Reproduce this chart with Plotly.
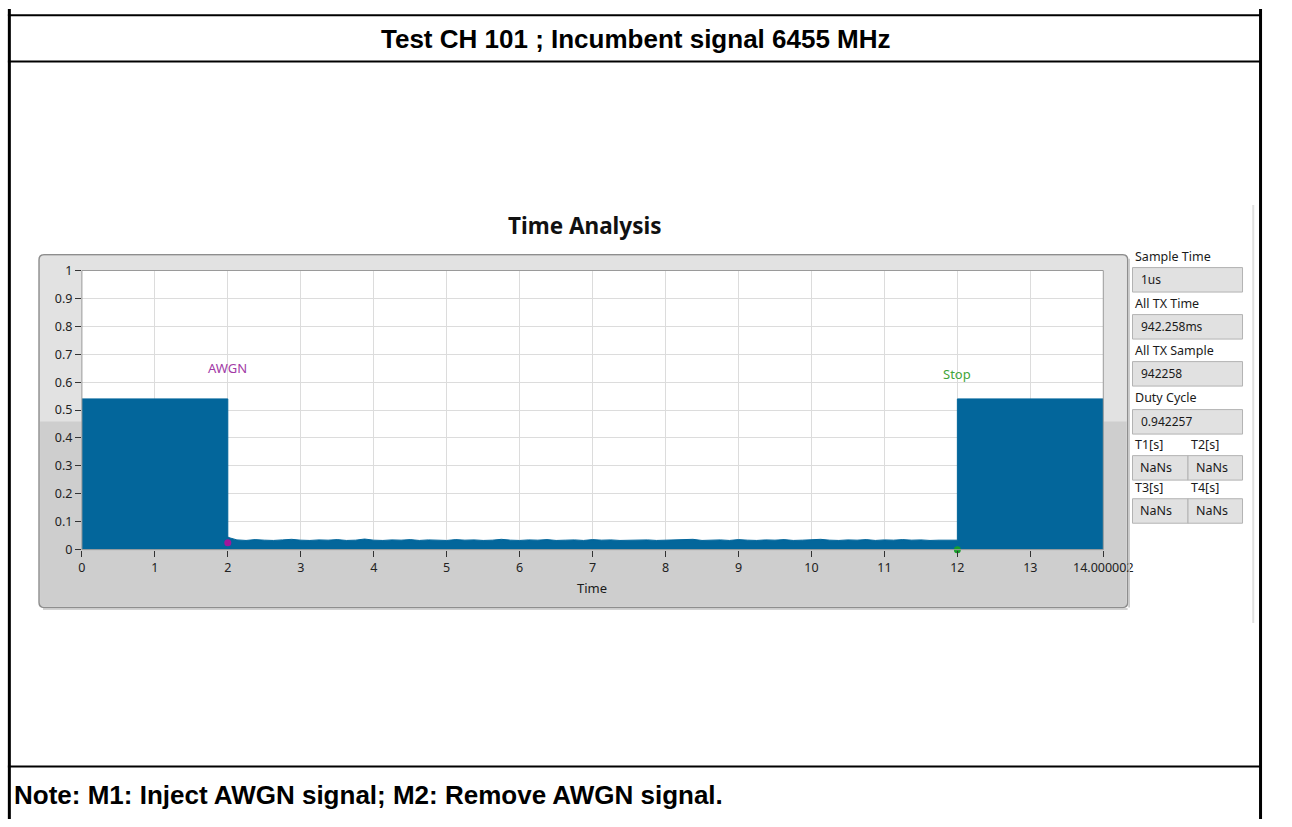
import plotly.graph_objects as go

# ---- data -------------------------------------------------------------
header_text = "Test CH 101 ; Incumbent signal 6455 MHz"
note_text = "Note: M1: Inject AWGN signal; M2: Remove AWGN signal."
chart_title = "Time Analysis"
x_title = "Time"

# transmission bursts (start, end) and their amplitude
burst_start = [0.0, 12.0]
burst_end = [2.0, 14.000002]
burst_level = 0.54

# noise floor between the bursts (AWGN injected)
noise_t = [2.00, 2.03, 2.125, 2.25, 2.375, 2.50, 2.625, 2.75, 2.875, 3.00,
           3.125, 3.25, 3.375, 3.50, 3.625, 3.75, 3.875, 4.00, 4.125, 4.25,
           4.375, 4.50, 4.625, 4.75, 4.875, 5.00, 5.125, 5.25, 5.375, 5.50,
           5.625, 5.75, 5.875, 6.00, 6.125, 6.25, 6.375, 6.50, 6.625, 6.75,
           6.875, 7.00, 7.125, 7.25, 7.375, 7.50, 7.625, 7.75, 7.875, 8.00,
           8.125, 8.25, 8.375, 8.50, 8.625, 8.75, 8.875, 9.00, 9.125, 9.25,
           9.375, 9.50, 9.625, 9.75, 9.875, 10.00, 10.125, 10.25, 10.375, 10.50,
           10.625, 10.75, 10.875, 11.00, 11.125, 11.25, 11.375, 11.50, 11.625, 11.75,
           11.875, 12.00]
noise_y = [0.045, 0.042, 0.035, 0.033, 0.036, 0.034, 0.033, 0.035, 0.037, 0.034,
           0.033, 0.035, 0.034, 0.036, 0.033, 0.034, 0.038, 0.034, 0.033, 0.035,
           0.034, 0.036, 0.033, 0.035, 0.034, 0.033, 0.036, 0.034, 0.035, 0.033,
           0.034, 0.037, 0.034, 0.033, 0.035, 0.034, 0.036, 0.033, 0.034, 0.035,
           0.033, 0.036, 0.034, 0.035, 0.033, 0.034, 0.036, 0.035, 0.033, 0.034,
           0.035, 0.034, 0.037, 0.033, 0.034, 0.035, 0.033, 0.036, 0.034, 0.033,
           0.035, 0.034, 0.036, 0.033, 0.034, 0.035, 0.037, 0.034, 0.033, 0.035,
           0.034, 0.036, 0.033, 0.035, 0.034, 0.036, 0.034, 0.035, 0.033, 0.034,
           0.035, 0.034]

# cursors
marker_x = [2.0, 12.0]
marker_y = [0.025, 0.0]
marker_name = ["AWGN", "Stop"]
marker_label_y = [0.65, 0.63]

x_ticks = [0, 1, 2, 3, 4, 5, 6, 7, 8, 9, 10, 11, 12, 13, 14.000002]
x_tick_text = ["0", "1", "2", "3", "4", "5", "6", "7", "8", "9", "10", "11",
               "12", "13", "14.000002"]
y_ticks = [0, 0.1, 0.2, 0.3, 0.4, 0.5, 0.6, 0.7, 0.8, 0.9, 1]
y_tick_text = ["0", "0.1", "0.2", "0.3", "0.4", "0.5", "0.6", "0.7", "0.8", "0.9", "1"]

# indicator panel
panel_labels = ["Sample Time", "All TX Time", "All TX Sample", "Duty Cycle"]
panel_values = ["1us", "942.258ms", "942258", "0.942257"]
pair_labels = [("T1[s]", "T2[s]"), ("T3[s]", "T4[s]")]
pair_values = [("NaNs", "NaNs"), ("NaNs", "NaNs")]

# ---- layout helpers -----------------------------------------------------
W, H = 1292, 827


def fx(px):
    return px / W


def fy(py):
    return 1 - py / H


PLOT_L, PLOT_R, PLOT_T, PLOT_B = 80, 1129, 267, 552
SIGNAL = "#03669b"
UI_FONT = "Noto Sans"

# ---- signal outline built from the bursts and the noise floor ------------
sig_x = [burst_start[0], burst_start[0], burst_end[0]]
sig_y = [0.0, burst_level, burst_level]
sig_x += noise_t
sig_y += noise_y
sig_x += [burst_start[1], burst_end[1], burst_end[1]]
sig_y += [burst_level, burst_level, 0.0]

fig = go.Figure()
fig.add_trace(go.Scatter(
    x=sig_x, y=sig_y, mode="lines", fill="tozeroy",
    fillcolor=SIGNAL, line=dict(color=SIGNAL, width=1),
    hoverinfo="skip", showlegend=False,
))
fig.add_trace(go.Scatter(
    x=marker_x, y=marker_y, mode="markers",
    marker=dict(color=["#a3169b", "#16a02a"], size=7),
    hoverinfo="skip", showlegend=False, cliponaxis=False,
))

shapes = []
annotations = []

# document table lines
shapes += [
    dict(type="line", xref="paper", yref="paper", x0=fx(5.5), x1=fx(5.5), y0=0, y1=1,
         line=dict(color="black", width=3)),
    dict(type="line", xref="paper", yref="paper", x0=fx(1290.5), x1=fx(1290.5), y0=0, y1=1,
         line=dict(color="black", width=3)),
]
for yy in [6.5, 53.5, 773.5]:
    shapes.append(dict(type="line", xref="paper", yref="paper", x0=fx(4), x1=fx(1292),
                       y0=fy(yy), y1=fy(yy), line=dict(color="black", width=2)))

# graph frame (two tone fill with rounded border)
FL, FR, FT, FB, FM = 36, 1154, 251, 611, 421
shapes.append(dict(type="rect", xref="paper", yref="paper", layer="below",
                   x0=fx(FL + 1), x1=fx(FR - 1), y0=fy(FM), y1=fy(FT + 1),
                   fillcolor="#e2e2e2", line=dict(width=0)))
shapes.append(dict(type="rect", xref="paper", yref="paper", layer="below",
                   x0=fx(FL + 1), x1=fx(FR - 1), y0=fy(FB - 1), y1=fy(FM),
                   fillcolor="#cecece", line=dict(width=0)))
# white plotting surface on top of the frame
shapes.append(dict(type="rect", xref="paper", yref="paper", layer="below",
                   x0=fx(PLOT_L), x1=fx(PLOT_R), y0=fy(PLOT_B), y1=fy(PLOT_T),
                   fillcolor="white", line=dict(width=0)))
r = 5
rx, ry = r / W, r / H
x0, x1, y0, y1 = fx(FL), fx(FR), fy(FB), fy(FT)
frame_path = (
    f"M {x0 + rx},{y1} L {x1 - rx},{y1} Q {x1},{y1} {x1},{y1 - ry} "
    f"L {x1},{y0 + ry} Q {x1},{y0} {x1 - rx},{y0} "
    f"L {x0 + rx},{y0} Q {x0},{y0} {x0},{y0 + ry} "
    f"L {x0},{y1 - ry} Q {x0},{y1} {x0 + rx},{y1} Z"
)
shapes.append(dict(type="path", xref="paper", yref="paper", path=frame_path,
                   layer="below", line=dict(color="#8e8e8e", width=1.5)))
# soft shadow along bottom and right edge
shapes.append(dict(type="line", xref="paper", yref="paper", x0=fx(FL + 4), x1=fx(FR),
                   y0=fy(FB + 1.5), y1=fy(FB + 1.5), line=dict(color="#c4c4c4", width=1.5)))
shapes.append(dict(type="line", xref="paper", yref="paper", x0=fx(FR + 1.5), x1=fx(FR + 1.5),
                   y0=fy(FT + 4), y1=fy(FB), line=dict(color="#c4c4c4", width=1.5)))

# plot area border
shapes.append(dict(type="rect", xref="paper", yref="paper",
                   x0=fx(PLOT_L), x1=fx(PLOT_R), y0=fy(PLOT_B), y1=fy(PLOT_T),
                   line=dict(color="#9a9a9a", width=1)))

# scroll strip on the right
shapes.append(dict(type="line", xref="paper", yref="paper", x0=fx(1283), x1=fx(1283),
                   y0=fy(627), y1=fy(200), line=dict(color="#e0e0e0", width=2)))

# indicator panel
BOX_L, BOX_R, BOX_MID = 1159, 1272, 1216
label_y = [253, 301, 349, 397]
box_top = [264, 312, 360, 409]
for lab, val, ly, bt in zip(panel_labels, panel_values, label_y, box_top):
    annotations.append(dict(x=fx(1160), y=fy(ly), xref="paper", yref="paper",
                            text=lab, showarrow=False, xanchor="left", yanchor="middle",
                            font=dict(family=UI_FONT, size=12.5, color="#1a1a1a")))
    shapes.append(dict(type="rect", xref="paper", yref="paper",
                       x0=fx(BOX_L), x1=fx(BOX_R), y0=fy(bt + 25), y1=fy(bt),
                       fillcolor="#e1e1e1", line=dict(color="#b3b3b3", width=1)))
    annotations.append(dict(x=fx(BOX_L + 7), y=fy(bt + 12.5), xref="paper", yref="paper",
                            text=val, showarrow=False, xanchor="left", yanchor="middle",
                            font=dict(family=UI_FONT, size=12, color="#1a1a1a")))

pair_label_y = [445, 489]
pair_box_top = [456, 500]
for (la, lb), (va, vb), ly, bt in zip(pair_labels, pair_values, pair_label_y, pair_box_top):
    for lab, val, lx, bx0, bx1 in [(la, va, 1160, BOX_L, BOX_MID), (lb, vb, 1217, BOX_MID, BOX_R)]:
        annotations.append(dict(x=fx(lx), y=fy(ly), xref="paper", yref="paper",
                                text=lab, showarrow=False, xanchor="left", yanchor="middle",
                                font=dict(family=UI_FONT, size=12.5, color="#1a1a1a")))
        shapes.append(dict(type="rect", xref="paper", yref="paper",
                           x0=fx(bx0), x1=fx(bx1), y0=fy(bt + 25), y1=fy(bt),
                           fillcolor="#e1e1e1", line=dict(color="#b3b3b3", width=1)))
        annotations.append(dict(x=fx(bx0 + 6), y=fy(bt + 12.5), xref="paper", yref="paper",
                                text=val, showarrow=False, xanchor="left", yanchor="middle",
                                font=dict(family=UI_FONT, size=12.5, color="#1a1a1a")))

# cursor labels
for name, mx, ly, col in zip(marker_name, marker_x, marker_label_y, ["#a23aa6", "#3fa43a"]):
    annotations.append(dict(x=mx, y=ly, xref="x", yref="y", text=name, showarrow=False,
                            xanchor="center", yanchor="middle",
                            font=dict(family=UI_FONT, size=13, color=col)))

# titles and notes
annotations.append(dict(x=fx(649.5), y=fy(31), xref="paper", yref="paper", text=f"<b>{header_text}</b>",
                        showarrow=False, xanchor="center", yanchor="middle",
                        font=dict(family="Liberation Sans", size=26, color="black")))
annotations.append(dict(x=fx(8), y=fy(802), xref="paper", yref="paper", text=f"<b>{note_text}</b>",
                        showarrow=False, xanchor="left", yanchor="middle",
                        font=dict(family="Liberation Sans", size=26, color="black")))
annotations.append(dict(x=fx(596), y=fy(221), xref="paper", yref="paper", text=f"<b>{chart_title}</b>",
                        showarrow=False, xanchor="center", yanchor="middle",
                        font=dict(family=UI_FONT, size=22.5, color="#111111")))
annotations.append(dict(x=fx(604), y=fy(591), xref="paper", yref="paper", text=x_title,
                        showarrow=False, xanchor="center", yanchor="middle",
                        font=dict(family=UI_FONT, size=13, color="#1a1a1a")))

fig.update_layout(
    autosize=True,
    margin=dict(l=0, r=0, t=0, b=0),
    paper_bgcolor="white", plot_bgcolor="white",
    showlegend=False,
    shapes=shapes, annotations=annotations,
    xaxis=dict(domain=[fx(PLOT_L), fx(PLOT_R)], range=[0, 14.000002],
               tickmode="array", tickvals=x_ticks, ticktext=x_tick_text,
               ticks="outside", ticklen=6, tickwidth=1, tickcolor="#333333",
               showgrid=True, gridcolor="#dcdcdc", gridwidth=1,
               zeroline=False, showline=False,
               tickfont=dict(family=UI_FONT, size=12.5, color="#222222")),
    yaxis=dict(domain=[fy(PLOT_B), fy(PLOT_T)], range=[0, 1],
               tickmode="array", tickvals=y_ticks, ticktext=y_tick_text,
               ticks="outside", ticklen=6, tickwidth=1, tickcolor="#333333",
               showgrid=True, gridcolor="#dcdcdc", gridwidth=1,
               zeroline=False, showline=False,
               tickfont=dict(family=UI_FONT, size=12.5, color="#222222")),
)

# the page hosts only the figure: no body margin, figure fills the window
fit_page = (
    "document.documentElement.style.margin='0';"
    "document.body.style.margin='0';"
    "document.body.style.overflow='hidden';"
    "var gd=document.getElementsByClassName('plotly-graph-div')[0];"
    "gd.style.width='100vw';gd.style.height='100vh';"
    "Plotly.Plots.resize(gd);"
)

fig.write_html(
    "out.html",
    config={"displayModeBar": False, "responsive": True},
    default_width="100vw",
    default_height="100vh",
    post_script=fit_page,
)
